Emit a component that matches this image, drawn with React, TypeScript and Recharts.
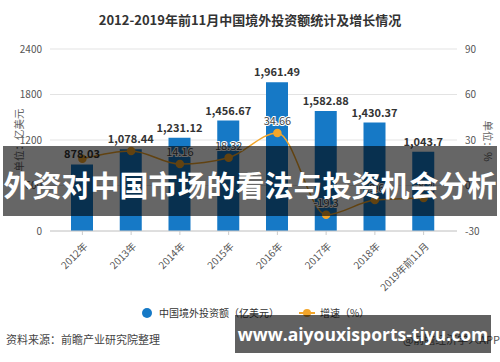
import React from "react";
import {
  ComposedChart,
  Bar,
  Line,
  XAxis,
  YAxis,
  CartesianGrid,
  LabelList,
} from "recharts";

const years = ["2012年", "2013年", "2014年", "2015年", "2016年", "2017年", "2018年", "2019年前11月"];
const investment = [878.03, 1078.44, 1231.12, 1456.67, 1961.49, 1582.88, 1430.37, 1043.7];
const growth = [17.6, 22.8, 14.16, 18.32, 34.66, -19.3, -9.6, -8.2];
// growth labels hidden behind the bar labels in the original
const growthLabelShown = [false, false, true, true, true, true, true, true];
const leftTicks = [0, 600, 1200, 1800, 2400];
const rightTicks = [-30, 0, 30, 60, 90];

const BAR_COLOR = "#1679c6";
const LINE_COLOR = "#f3a62b";
const FONT = '"Noto Sans CJK SC", "Noto Sans", sans-serif';

const data = years.map((name, i) => ({
  name,
  investment: investment[i],
  growth: growth[i],
  idx: i,
}));

const XTick = ({ x, y, payload }: any) => (
  <text
    x={x + 4}
    y={y + 8}
    transform={`rotate(-45, ${x + 4}, ${y + 8})`}
    textAnchor="end"
    dominantBaseline="middle"
    fontSize={10}
    fill="#555"
    fontFamily={FONT}
  >
    {payload.value}
  </text>
);

const GrowthLabel = (props: any) => {
  const { x, y, value, index } = props;
  if (!growthLabelShown[index]) return null;
  return (
    <text
      x={x}
      y={y - 8}
      textAnchor="middle"
      fontSize={11}
      fill="#444"
      stroke="#fff"
      strokeWidth={2}
      paintOrder="stroke"
      fontFamily={FONT}
    >
      {value}
    </text>
  );
};

export default function App() {
  return (
    <div
      style={{
        position: "absolute",
        left: 0,
        top: 0,
        width: 500,
        height: 362,
        background: "#fff",
        overflow: "hidden",
        fontFamily: FONT,
      }}
    >
      <div
        style={{
          position: "absolute",
          top: 10,
          left: 0,
          width: 500,
          textAlign: "center",
          fontSize: 13,
          fontWeight: "bold",
          color: "#333",
        }}
      >
        2012-2019年前11月中国境外投资额统计及增长情况
      </div>

      <div style={{ position: "absolute", left: 0, top: 0 }}>
        <ComposedChart
          width={500}
          height={362}
          data={data}
          margin={{ top: 49, right: 13, bottom: 91, left: 10 }}
        >
          <CartesianGrid yAxisId="left" vertical={false} stroke="#e3e3e3" />
          <XAxis
            dataKey="name"
            interval={0}
            height={40}
            padding={{ left: 8, right: 9 }}
            tick={<XTick />}
            tickSize={4}
            axisLine={{ stroke: "#ccc" }}
            tickLine={{ stroke: "#ccc" }}
          />
          <YAxis
            yAxisId="left"
            width={40}
            domain={[0, 2400]}
            ticks={leftTicks}
            axisLine={false}
            tickLine={false}
            tickMargin={2}
            tick={{ fontSize: 10, fill: "#555", fontFamily: FONT }}
          />
          <YAxis
            yAxisId="right"
            orientation="right"
            width={30}
            domain={[-30, 90]}
            ticks={rightTicks}
            axisLine={false}
            tickLine={false}
            tickMargin={2}
            tick={{ fontSize: 10, fill: "#555", fontFamily: FONT, textAnchor: "start" }}
          />
          <Bar
            yAxisId="left"
            dataKey="investment"
            fill={BAR_COLOR}
            barSize={22}
            isAnimationActive={false}
          >
            <LabelList
              dataKey="investment"
              position="top"
              offset={6}
              fontSize={11}
              fill="#333"
              fontWeight="bold"
              fontFamily={FONT}
              formatter={(v: any) =>
                Number(v).toLocaleString("en-US", { maximumFractionDigits: 2 })
              }
            />
          </Bar>
          <Line
            yAxisId="right"
            type="monotone"
            dataKey="growth"
            stroke={LINE_COLOR}
            strokeWidth={1.5}
            dot={{ r: 3.5, fill: LINE_COLOR, stroke: LINE_COLOR }}
            isAnimationActive={false}
          >
            <LabelList dataKey="growth" content={<GrowthLabel />} />
          </Line>
        </ComposedChart>
      </div>

      {/* axis unit labels */}
      <div
        style={{
          position: "absolute",
          left: 18,
          top: 140,
          transform: "translate(-50%, -50%) rotate(-90deg)",
          fontSize: 10.5,
          color: "#666",
          whiteSpace: "nowrap",
        }}
      >
        单位：亿美元
      </div>
      <div
        style={{
          position: "absolute",
          left: 488,
          top: 141,
          transform: "translate(-50%, -50%) rotate(90deg)",
          fontSize: 10.5,
          color: "#666",
          whiteSpace: "nowrap",
        }}
      >
        单位：%
      </div>

      {/* legend */}
      <div
        style={{
          position: "absolute",
          top: 305,
          left: 142,
          display: "flex",
          alignItems: "center",
          fontSize: 10,
          color: "#333",
          whiteSpace: "nowrap",
        }}
      >
        <span
          style={{
            display: "inline-block",
            width: 10,
            height: 10,
            borderRadius: 5,
            background: BAR_COLOR,
            marginRight: 7,
          }}
        />
        <span>中国境外投资额（亿美元）</span>
        <span
          style={{
            position: "relative",
            display: "inline-block",
            width: 16,
            height: 10,
            marginLeft: 20,
            marginRight: 5,
          }}
        >
          <span
            style={{
              position: "absolute",
              left: 0,
              top: 4,
              width: 16,
              height: 2,
              background: LINE_COLOR,
            }}
          />
          <span
            style={{
              position: "absolute",
              left: 4,
              top: 1,
              width: 8,
              height: 8,
              borderRadius: 4,
              background: LINE_COLOR,
            }}
          />
        </span>
        <span>增速（%）</span>
      </div>

      <div
        style={{
          position: "absolute",
          left: 6,
          top: 331,
          fontSize: 11,
          color: "#444",
          whiteSpace: "nowrap",
        }}
      >
        资料来源：前瞻产业研究院整理
      </div>
      <div
        style={{
          position: "absolute",
          right: 0,
          top: 331,
          fontSize: 11,
          color: "#555",
          whiteSpace: "nowrap",
        }}
      >
        @前瞻经济学人APP
      </div>

      {/* overlay banner */}
      <div
        style={{
          position: "absolute",
          left: 3,
          top: 146,
          width: 494,
          height: 70,
          background: "rgba(0,0,0,0.6)",
        }}
      />
      <div
        style={{
          position: "absolute",
          left: 0,
          top: 166,
          width: 500,
          textAlign: "center",
          fontSize: 29,
          lineHeight: "36px",
          fontWeight: "bold",
          color: "#fff",
          whiteSpace: "nowrap",
        }}
      >
        外资对中国市场的看法与投资机会分析
      </div>

      {/* watermark */}
      <div
        style={{
          position: "absolute",
          left: 235,
          top: 315,
          width: 256,
          height: 38,
          background: "rgba(0,0,0,0.62)",
          color: "#fff",
          fontFamily: '"Open Sans", "Noto Sans", sans-serif',
          fontWeight: "bold",
          fontSize: 17.5,
          lineHeight: "38px",
          textAlign: "center",
          whiteSpace: "nowrap",
        }}
      >
        www.aiyouxisports-tiyu.com
      </div>
    </div>
  );
}
